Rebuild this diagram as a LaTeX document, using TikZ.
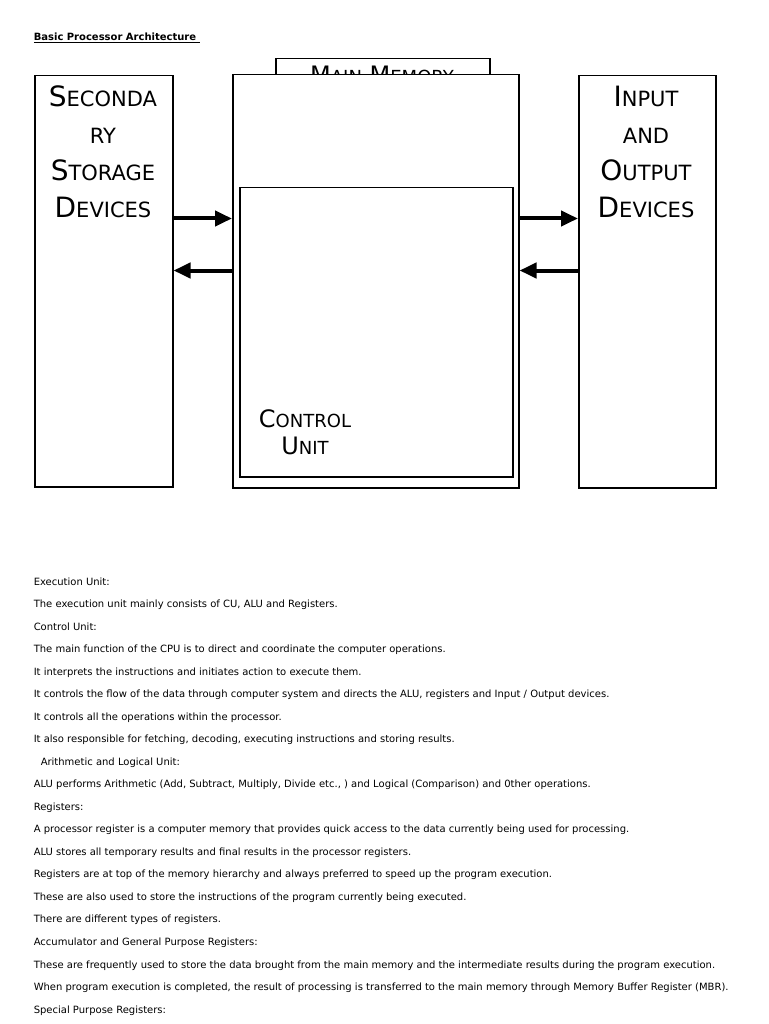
\documentclass[tikz,border=0pt]{standalone}
\usepackage{fontspec}
\setmainfont{DejaVu Sans}
\usepackage{graphicx}
\usetikzlibrary{arrows.meta, positioning}
\newcommand{\lowc}[1]{\scalebox{0.75}{#1}}
\tikzset{
  every picture/.style={line width=1.5pt},
  box/.style={draw=black, fill=white, anchor=north west, inner sep=0pt},
  boxtext/.style={font=\fontsize{28}{37}\selectfont, align=center, anchor=north, inner sep=0pt},
  arrow/.style={-{Triangle[length=17pt, width=15pt]}, line width=4pt},
  title/.style={font=\fontsize{10}{12}\selectfont\bfseries, anchor=base west, inner sep=0pt},
  note/.style={font=\fontsize{10}{12}\selectfont, anchor=base west, inner sep=0pt},
}

\begin{document}
\begin{tikzpicture}[x=1pt, y=-1pt]
  \useasboundingbox (0,0) rectangle (768,1024);
  \node[title] (head) at (33,41) {\underline{Basic Processor Architecture\ }};
  % main memory sits behind the processor box
  \node[box, minimum width=214pt, minimum height=40pt] (mm) at (275,58) {};
  \node[boxtext, font=\fontsize{24}{30}\selectfont] (mmtxt) at (382,65) {M\lowc{AIN} M\lowc{EMORY}};
  \node[box, minimum width=286pt, minimum height=413pt] (cpu) at (232,74) {};
  \node[box, minimum width=273pt, minimum height=289pt] (cu) at (239,187) {};
  \node[boxtext, font=\fontsize{24}{27}\selectfont] (cutxt) at (305,409) {C\lowc{ONTROL}\\U\lowc{NIT}};
  \node[box, minimum width=138pt, minimum height=411pt] (ssd) at (34,75) {};
  \node[boxtext] (ssdtxt) at (103,85) {S\lowc{ECONDA}\\\lowc{RY}\\S\lowc{TORAGE}\\D\lowc{EVICES}};
  \node[box, minimum width=137pt, minimum height=412pt] (io) at (578,75) {};
  \node[boxtext] (iotxt) at (646,85) {I\lowc{NPUT}\\\lowc{AND}\\O\lowc{UTPUT}\\D\lowc{EVICES}};
  % data paths
  \coordinate (hi) at (0,218.5);
  \coordinate (lo) at (0,270.5);
  \draw[arrow] (ssd.east |- hi) -- (cpu.west |- hi);
  \draw[arrow] (cpu.west |- lo) -- (ssd.east |- lo);
  \draw[arrow] (cpu.east |- hi) -- (io.west |- hi);
  \draw[arrow] (io.west |- lo) -- (cpu.east |- lo);
  % notes
  \foreach \txt [count=\i from 0] in {
    {Execution Unit:},
    {The execution unit mainly consists of CU, ALU and Registers.},
    {Control Unit:},
    {The main function of the CPU is to direct and coordinate the computer operations.},
    {It interprets the instructions and initiates action to execute them.},
    {It controls the flow of the data through computer system and directs the ALU, registers and Input / Output devices.},
    {It controls all the operations within the processor.},
    {It also responsible for fetching, decoding, executing instructions and storing results.},
    {\hspace*{7pt}Arithmetic and Logical Unit:},
    {ALU performs Arithmetic (Add, Subtract, Multiply, Divide etc., ) and Logical (Comparison) and 0ther operations.},
    {Registers:},
    {A processor register is a computer memory that provides quick access to the data currently being used for processing.},
    {ALU stores all temporary results and final results in the processor registers.},
    {Registers are at top of the memory hierarchy and always preferred to speed up the program execution.},
    {These are also used to store the instructions of the program currently being executed.},
    {There are different types of registers.},
    {Accumulator and General Purpose Registers:},
    {These are frequently used to store the data brought from the main memory and the intermediate results during the program execution.},
    {When program execution is completed, the result of processing is transferred to the main memory through Memory Buffer Register (MBR).},
    {Special Purpose Registers:}}
    \node[note] (line\i) at (33,{585+22.53*\i}) {\txt};
\end{tikzpicture}
\end{document}
